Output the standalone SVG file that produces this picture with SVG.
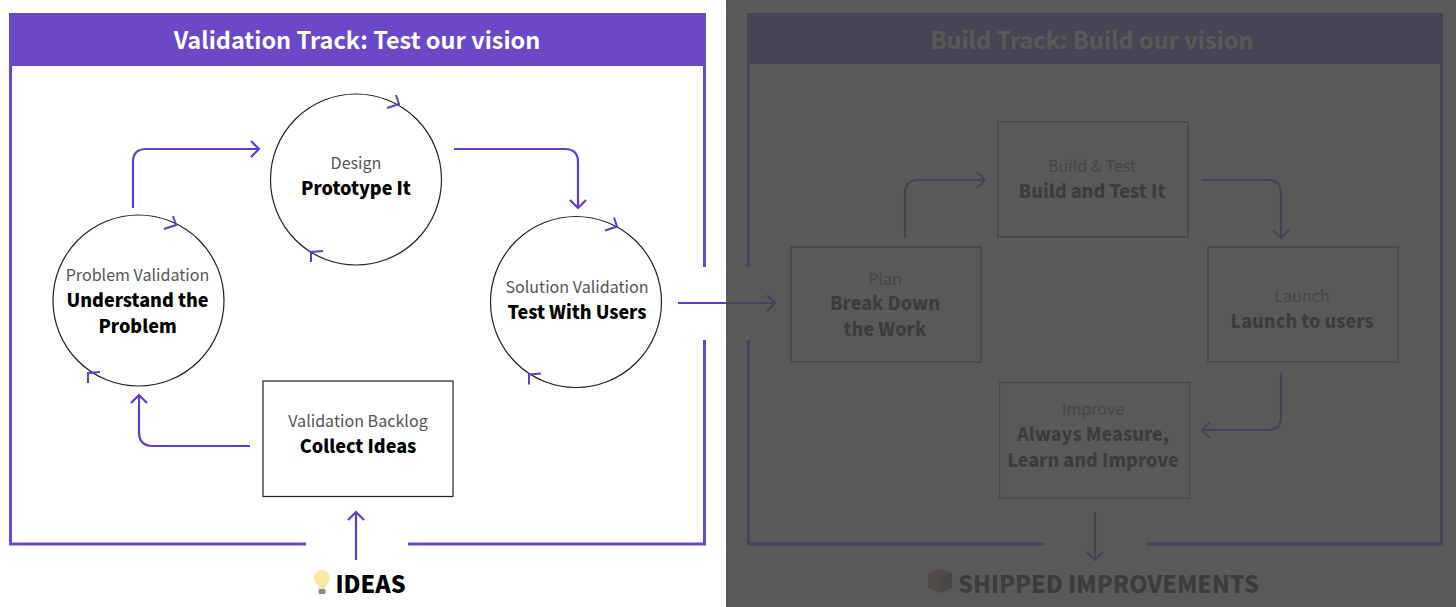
<svg xmlns="http://www.w3.org/2000/svg" width="1456" height="607" viewBox="0 0 1456 607">
<style>
text{font-family:"Noto Sans CJK SC","Source Sans Pro","Noto Sans",sans-serif;text-anchor:middle}
.t{font-size:23.500px;font-weight:700;fill:#fff}
.s{font-size:16.100px;fill:#555}
.b{font-size:18px;font-weight:900;fill:#000}
.f{font-size:23.300px;font-weight:900;fill:#000}
.n{fill:#fff;stroke:#222;stroke-width:1.200}
.l{fill:none;stroke:#5f3fc8;stroke-width:2.200}
.fr{fill:none;stroke:#6a48c8;stroke-width:3}
.h{fill:#6b48c8}
.c{fill:none;stroke:#5f3fc8;stroke-width:2}
</style>
<defs>
<path id="cw" class="c" d="M387 108L399 104L396 95M323 251L311 252L311 262"/>
</defs>
<rect width="1456" height="607" fill="#fff"/>
<g id="validation-track">
<rect class="h" x="9" y="13" width="697" height="53"/>
<path class="fr" d="M704.500 65V267M704.500 340V544H408M306 544H10.500V65"/>
<text class="t" x="357" y="49">Validation Track: Test our vision</text>
</g>
<g id="build-track">
<rect class="h" x="747" y="13" width="696" height="51"/>
<path class="fr" d="M748.500 64V267M748.500 340V544H1044M1146 544H1441.500V64"/>
<text class="t" x="1092" y="49">Build Track: Build our vision</text>
</g>
<g id="design"><circle class="n" cx="356" cy="179.500" r="85.500"/><use href="#cw"/>
<text class="s" x="356" y="169">Design</text><text class="b" x="356" y="195">Prototype It</text></g>
<g id="problem-validation"><circle class="n" cx="138.500" cy="300.500" r="85.500"/><use href="#cw" transform="translate(-223 121)"/>
<text class="s" x="137.500" y="281">Problem Validation</text><text class="b" x="137.500" y="307">Understand the</text><text class="b" x="137.500" y="333">Problem</text></g>
<g id="solution-validation"><circle class="n" cx="576" cy="302" r="85.500"/><use href="#cw" transform="translate(218 122.500)"/>
<text class="s" x="577" y="293">Solution Validation</text><text class="b" x="577" y="319">Test With Users</text></g>
<g id="validation-backlog"><rect class="n" x="263" y="381" width="190" height="115.500"/>
<text class="s" x="358" y="427">Validation Backlog</text><text class="b" x="358" y="453">Collect Ideas</text></g>
<g id="plan"><rect class="n" x="791" y="247" width="190" height="115"/>
<text class="s" x="885" y="285">Plan</text><text class="b" x="885" y="310">Break Down</text><text class="b" x="885" y="336">the Work</text></g>
<g id="build-test"><rect class="n" x="998" y="122" width="190" height="115"/>
<text class="s" x="1092" y="172">Build &amp; Test</text><text class="b" x="1092" y="198">Build and Test It</text></g>
<g id="launch"><rect class="n" x="1208" y="247" width="190" height="115"/>
<text class="s" x="1302" y="302">Launch</text><text class="b" x="1302" y="328">Launch to users</text></g>
<g id="improve"><rect x="999.500" y="382.500" width="190" height="115.500" fill="#fff" stroke="#6e49c9" stroke-width="1.200"/>
<text class="s" x="1093" y="415">Improve</text><text class="b" x="1093" y="441">Always Measure,</text><text class="b" x="1093" y="467">Learn and Improve</text></g>
<g id="ideas"><path d="M322 570c-5 0-8 4-8 8 0 5 4 6 5 11h6c1-5 5-6 5-11 0-4-3-8-8-8z" fill="#fbe7a8"/><rect x="318.500" y="589" width="7" height="5" rx="1.500" fill="#8a8a8a"/>
<text class="f" x="370.500" y="593">IDEAS</text></g>
<g id="shipped"><path d="M928 574l12-5 12 4v15l-12 5-12-5z" fill="#a8835a"/><path d="M940 578l12-5v15l-12 5z" fill="#7a5c3c"/>
<text class="f" x="1108.500" y="593">SHIPPED IMPROVEMENTS</text></g>
<g id="connectors" fill="none">
<path class="l" d="M133 208V162Q133 149 146 149H258M251 141L259 149L251 157"/>
<path class="l" d="M454 149H565Q578 149 578 162V208M570 200L578 208L586 200"/>
<path class="l" d="M250 446H153Q139 446 139 432V395M131 403L139 395L147 403"/>
<path class="l" d="M356 560V512M348 520L356 512L364 520"/>
<path class="l" d="M678 303H775M767 295L775 303L767 311"/>
<path class="l" d="M905 238V193Q905 180 918 180H985M977 172L985 180L977 188"/>
<path class="l" d="M1201 180H1268Q1281 180 1281 193V238M1273 230L1281 238L1289 230"/>
<path class="l" d="M1281 372V417Q1281 430 1268 430H1202M1210 422L1202 430L1210 438"/>
<path class="l" d="M1095 512V560M1087 552L1095 560L1103 552"/>
</g>
<rect id="dim" x="726" y="0" width="730" height="607" fill="#444" fill-opacity=".886"/>
</svg>
